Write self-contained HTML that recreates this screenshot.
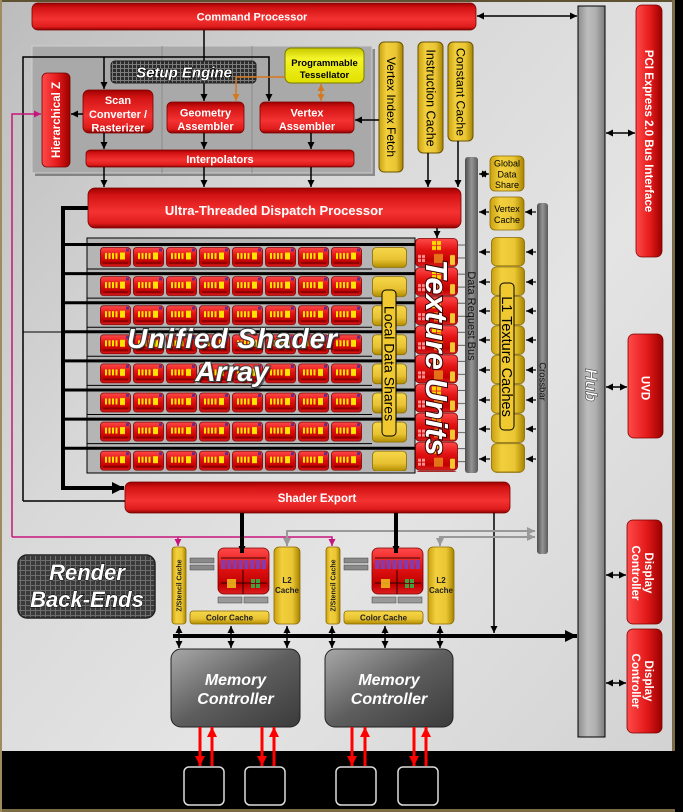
<!DOCTYPE html>
<html><head><meta charset="utf-8"><style>
html,body{margin:0;padding:0;background:#000;}
svg{display:block;}
text{font-family:"Liberation Sans",Arial,sans-serif;}
</style></head><body>
<svg width="683" height="812" viewBox="0 0 683 812" xmlns="http://www.w3.org/2000/svg">
<defs>
 <linearGradient id="bg" x1="0" y1="0" x2="1" y2="1">
  <stop offset="0" stop-color="#bcbcbc"/><stop offset="0.35" stop-color="#d9d9d9"/>
  <stop offset="0.6" stop-color="#e4e4e4"/><stop offset="1" stop-color="#d0d0d0"/>
 </linearGradient>
 <linearGradient id="rh" x1="0" y1="0" x2="0" y2="1">
  <stop offset="0" stop-color="#9e0000"/><stop offset="0.18" stop-color="#d41414"/>
  <stop offset="0.6" stop-color="#f43232"/><stop offset="0.88" stop-color="#de1c1c"/>
  <stop offset="1" stop-color="#8a0000"/>
 </linearGradient>
 <linearGradient id="rv" x1="0" y1="0" x2="1" y2="0">
  <stop offset="0" stop-color="#ff4a4a"/><stop offset="0.55" stop-color="#e41a1a"/>
  <stop offset="1" stop-color="#9a0000"/>
 </linearGradient>
 <linearGradient id="cg" x1="0" y1="0" x2="0" y2="1">
  <stop offset="0" stop-color="#ff4a4a"/><stop offset="0.4" stop-color="#e41414"/>
  <stop offset="0.8" stop-color="#c00000"/><stop offset="1" stop-color="#e02020"/>
 </linearGradient>
 <linearGradient id="yv" x1="0" y1="0" x2="1" y2="0">
  <stop offset="0" stop-color="#c9a010"/><stop offset="0.3" stop-color="#f2cf3c"/>
  <stop offset="0.7" stop-color="#eac634"/><stop offset="1" stop-color="#a88400"/>
 </linearGradient>
 <linearGradient id="yh" x1="0" y1="0" x2="0" y2="1">
  <stop offset="0" stop-color="#f6d84a"/><stop offset="0.6" stop-color="#e8c232"/>
  <stop offset="1" stop-color="#b08c00"/>
 </linearGradient>
 <linearGradient id="yt" x1="0" y1="0" x2="0" y2="1">
  <stop offset="0" stop-color="#c8c800"/><stop offset="0.3" stop-color="#f4f42a"/>
  <stop offset="1" stop-color="#e0e000"/>
 </linearGradient>
 <linearGradient id="hub" x1="0" y1="0" x2="1" y2="0">
  <stop offset="0" stop-color="#8c8c8c"/><stop offset="0.35" stop-color="#bdbdbd"/>
  <stop offset="0.65" stop-color="#b0b0b0"/><stop offset="1" stop-color="#7c7c7c"/>
 </linearGradient>
 <linearGradient id="bar" x1="0" y1="0" x2="1" y2="0">
  <stop offset="0" stop-color="#4c4c4c"/><stop offset="0.5" stop-color="#959595"/>
  <stop offset="1" stop-color="#5a5a5a"/>
 </linearGradient>
 <linearGradient id="mc" x1="0" y1="0" x2="1" y2="1">
  <stop offset="0" stop-color="#a8a8a8"/><stop offset="0.5" stop-color="#5e5e5e"/>
  <stop offset="1" stop-color="#3a3a3a"/>
 </linearGradient>
 <pattern id="grid" width="4" height="4" patternUnits="userSpaceOnUse">
  <rect width="4" height="4" fill="#2c2c2c"/><path d="M0,0.5H4M0.5,0V4" stroke="#7c7c7c" stroke-width="1"/>
 </pattern>
 <pattern id="grid2" width="5" height="5" patternUnits="userSpaceOnUse">
  <rect width="5" height="5" fill="#3a3a3a"/><path d="M0,0.5H5M0.5,0V5" stroke="#6e6e6e" stroke-width="1"/>
 </pattern>
 <pattern id="cellp" x="100" y="247" width="33" height="29.1" patternUnits="userSpaceOnUse">
  <rect x="0.5" y="0.5" width="30" height="19" rx="3" fill="url(#cg)" stroke="#7a0000" stroke-width="0.8"/>
  <rect x="3" y="15" width="25" height="2" fill="#8a0000"/>
  <rect x="5" y="6" width="2" height="6" fill="#ffe400"/>
  <rect x="8.5" y="6" width="2" height="6" fill="#ffe400"/>
  <rect x="12" y="6" width="2" height="6" fill="#ffe400"/>
  <rect x="15.5" y="6" width="2" height="6" fill="#ffe400"/>
  <rect x="20" y="5.5" width="5" height="7" fill="#ffe400"/>
  <rect x="26" y="1.5" width="3" height="3" fill="#6a2a8a"/>
 </pattern>
 <pattern id="tup" x="415" y="238" width="43" height="29.1" patternUnits="userSpaceOnUse">
  <rect x="0.5" y="0.5" width="42" height="28" rx="4" fill="url(#cg)" stroke="#7a0000" stroke-width="0.8"/>
  <rect x="17" y="3" width="4" height="4" fill="#ffd800"/><rect x="22" y="3" width="4" height="4" fill="#ffd800"/>
  <rect x="17" y="8" width="4" height="4" fill="#ffd800"/><rect x="22" y="8" width="4" height="4" fill="#ffd800"/>
  <rect x="3" y="17" width="3" height="3" fill="#ff9090"/><rect x="7" y="17" width="3" height="3" fill="#ff9090"/>
  <rect x="3" y="21" width="3" height="3" fill="#ff9090"/><rect x="7" y="21" width="3" height="3" fill="#ff9090"/>
  <rect x="19" y="16" width="9" height="9" fill="#f0a020" opacity="0.7"/>
  <rect x="35" y="17" width="5" height="10" rx="1" fill="#f2c830"/>
 </pattern>
 <pattern id="tul" x="458" y="238" width="7" height="29.1" patternUnits="userSpaceOnUse">
  <path d="M0,7H7M0,20H7" stroke="#333" stroke-width="0.8"/>
 </pattern>
 <pattern id="ldsp" x="372" y="247" width="35" height="29.1" patternUnits="userSpaceOnUse">
  <rect x="0.5" y="0.5" width="34" height="20" rx="4" fill="url(#yh)" stroke="#8a6a00" stroke-width="0.8"/>
 </pattern>
 <pattern id="l1p" x="491" y="237" width="34" height="29.45" patternUnits="userSpaceOnUse">
  <rect x="0.5" y="0.5" width="33" height="28.4" rx="5" fill="url(#yv)" stroke="#8a6a00" stroke-width="0.8"/>
 </pattern>
 <marker id="ak" viewBox="0 0 10 10" refX="10" refY="5" markerWidth="7" markerHeight="7" markerUnits="userSpaceOnUse" orient="auto-start-reverse"><path d="M0,0L10,5L0,10z" fill="#000"/></marker>
 <marker id="akb" viewBox="0 0 10 10" refX="10" refY="5" markerWidth="12" markerHeight="12" markerUnits="userSpaceOnUse" orient="auto-start-reverse"><path d="M0,0L10,5L0,10z" fill="#000"/></marker>
 <marker id="ao" viewBox="0 0 10 10" refX="10" refY="5" markerWidth="7" markerHeight="7" markerUnits="userSpaceOnUse" orient="auto-start-reverse"><path d="M0,0L10,5L0,10z" fill="#d5781e"/></marker>
 <marker id="am" viewBox="0 0 10 10" refX="10" refY="5" markerWidth="7" markerHeight="7" markerUnits="userSpaceOnUse" orient="auto-start-reverse"><path d="M0,0L10,5L0,10z" fill="#c8157d"/></marker>
 <marker id="ag" viewBox="0 0 10 10" refX="10" refY="5" markerWidth="8" markerHeight="8" markerUnits="userSpaceOnUse" orient="auto-start-reverse"><path d="M0,0L10,5L0,10z" fill="#999"/></marker>
 <marker id="ar" viewBox="0 0 10 10" refX="10" refY="5" markerWidth="10" markerHeight="10" markerUnits="userSpaceOnUse" orient="auto-start-reverse"><path d="M0,0L10,5L0,10z" fill="#ff0000"/></marker>
</defs>

<!-- background & frame -->
<rect width="683" height="812" fill="url(#bg)"/>
<rect x="0" y="751" width="683" height="61" fill="#000"/>
<rect x="0" y="809" width="683" height="3" fill="#7a6c44"/>
<rect x="0" y="0" width="683" height="2" fill="#5e5230"/>
<rect x="0" y="0" width="2" height="812" fill="#9c8c60"/>
<rect x="675" y="0" width="8" height="812" fill="#000"/>
<rect x="672" y="0" width="3" height="751" fill="#7a6c44"/>

<!-- Hub -->
<rect x="578" y="6" width="27" height="731" fill="url(#hub)" stroke="#000" stroke-width="1"/>
<text transform="translate(585.5,385) rotate(90)" text-anchor="middle" font-size="17" font-weight="bold" font-style="italic" fill="#fff" stroke="#444" stroke-width="0.6">Hub</text>

<!-- PCI -->
<rect x="636" y="5" width="26" height="252" rx="6" fill="url(#rv)" stroke="#7a0000" stroke-width="0.8"/>
<text transform="translate(645,131) rotate(90)" text-anchor="middle" font-size="11.5" font-weight="bold" fill="#fff">PCI Express 2.0 Bus Interface</text>
<!-- UVD / Display -->
<rect x="628" y="334" width="35" height="104" rx="6" fill="url(#rv)" stroke="#7a0000" stroke-width="0.8"/>
<text transform="translate(641.5,388) rotate(90)" text-anchor="middle" font-size="11.5" font-weight="bold" fill="#fff">UVD</text>
<rect x="627" y="520" width="35" height="104" rx="6" fill="url(#rv)" stroke="#7a0000" stroke-width="0.8"/>
<text transform="translate(645,573) rotate(90)" text-anchor="middle" font-size="11.5" font-weight="bold" fill="#fff">Display</text>
<text transform="translate(632,573) rotate(90)" text-anchor="middle" font-size="11.5" font-weight="bold" fill="#fff">Controller</text>
<rect x="627" y="629" width="35" height="104" rx="6" fill="url(#rv)" stroke="#7a0000" stroke-width="0.8"/>
<text transform="translate(645,681) rotate(90)" text-anchor="middle" font-size="11.5" font-weight="bold" fill="#fff">Display</text>
<text transform="translate(632,681) rotate(90)" text-anchor="middle" font-size="11.5" font-weight="bold" fill="#fff">Controller</text>

<g stroke="#000" stroke-width="1.5" fill="none">
 <line x1="477" y1="16" x2="577" y2="16" marker-start="url(#ak)" marker-end="url(#ak)"/>
 <line x1="606" y1="133" x2="635" y2="133" marker-start="url(#ak)" marker-end="url(#ak)"/>
 <line x1="606" y1="387" x2="627" y2="387" marker-start="url(#ak)" marker-end="url(#ak)"/>
 <line x1="606" y1="575" x2="626" y2="575" marker-start="url(#ak)" marker-end="url(#ak)"/>
 <line x1="606" y1="683" x2="626" y2="683" marker-start="url(#ak)" marker-end="url(#ak)"/>
</g>

<!-- Command Processor -->
<rect x="32" y="3" width="444" height="27" rx="6" fill="url(#rh)" stroke="#7a0000" stroke-width="0.8"/>
<text x="252" y="20.5" text-anchor="middle" font-size="11" font-weight="bold" fill="#fff">Command Processor</text>

<!-- Setup panel -->
<rect x="35" y="49" width="340" height="127" fill="#555" opacity="0.6"/>
<rect x="32" y="46" width="340" height="127" fill="#a9a9a9" stroke="#cfcfcf" stroke-width="1"/>
<line x1="162" y1="46" x2="162" y2="173" stroke="#8a8a8a"/>
<line x1="252" y1="46" x2="252" y2="173" stroke="#8a8a8a"/>
<rect x="285" y="48" width="79" height="35" rx="6" fill="url(#yt)" stroke="#7a7a00" stroke-width="1"/>
<text x="324.5" y="66" text-anchor="middle" font-size="9.5" font-weight="bold" fill="#000">Programmable</text>
<text x="324.5" y="78" text-anchor="middle" font-size="9.5" font-weight="bold" fill="#000">Tessellator</text>

<rect x="42" y="73" width="28" height="94" rx="5" fill="url(#rv)" stroke="#7a0000" stroke-width="0.8"/>
<text transform="translate(60,120) rotate(-90)" text-anchor="middle" font-size="11.5" font-weight="bold" fill="#fff">Hierarchical Z</text>
<rect x="83" y="90" width="70" height="43" rx="6" fill="url(#rh)" stroke="#7a0000" stroke-width="0.8"/>
<text x="118" y="104" text-anchor="middle" font-size="11" font-weight="bold" fill="#fff">Scan</text>
<text x="118" y="118" text-anchor="middle" font-size="11" font-weight="bold" fill="#fff">Converter /</text>
<text x="118" y="131.5" text-anchor="middle" font-size="11" font-weight="bold" fill="#fff">Rasterizer</text>
<rect x="167" y="102" width="77" height="31" rx="5" fill="url(#rh)" stroke="#7a0000" stroke-width="0.8"/>
<text x="205.5" y="116.5" text-anchor="middle" font-size="11" font-weight="bold" fill="#fff">Geometry</text>
<text x="205.5" y="130" text-anchor="middle" font-size="11" font-weight="bold" fill="#fff">Assembler</text>
<rect x="260" y="102" width="94" height="31" rx="5" fill="url(#rh)" stroke="#7a0000" stroke-width="0.8"/>
<text x="307" y="116.5" text-anchor="middle" font-size="11" font-weight="bold" fill="#fff">Vertex</text>
<text x="307" y="130" text-anchor="middle" font-size="11" font-weight="bold" fill="#fff">Assembler</text>
<rect x="86" y="150" width="268" height="17" rx="4" fill="url(#rh)" stroke="#7a0000" stroke-width="0.8"/>
<text x="220" y="163" text-anchor="middle" font-size="11" font-weight="bold" fill="#fff">Interpolators</text>

<!-- yellow caches top -->
<rect x="379" y="42" width="24" height="130" rx="5" fill="url(#yv)" stroke="#6a5200" stroke-width="1"/>
<text transform="translate(387,107) rotate(90)" text-anchor="middle" font-size="12" fill="#000">Vertex Index Fetch</text>
<rect x="418" y="42" width="25" height="111" rx="5" fill="url(#yv)" stroke="#6a5200" stroke-width="1"/>
<text transform="translate(426.5,98) rotate(90)" text-anchor="middle" font-size="12.5" fill="#000">Instruction Cache</text>
<rect x="448" y="42" width="25" height="99" rx="5" fill="url(#yv)" stroke="#6a5200" stroke-width="1"/>
<text transform="translate(456.5,92) rotate(90)" text-anchor="middle" font-size="12.3" fill="#000">Constant Cache</text>

<!-- UTDP -->
<rect x="88" y="188" width="373" height="40" rx="7" fill="url(#rh)" stroke="#7a0000" stroke-width="0.8"/>
<text x="274" y="215" text-anchor="middle" font-size="13" font-weight="bold" fill="#fff">Ultra-Threaded Dispatch Processor</text>

<!-- DRB, GDS, VC, crossbar -->
<rect x="465" y="157" width="13" height="316" rx="3" fill="url(#bar)"/>
<text transform="translate(468,316) rotate(90)" text-anchor="middle" font-size="11" fill="#111">Data Request Bus</text>
<rect x="490" y="156" width="34" height="35" rx="5" fill="url(#yv)" stroke="#8a6a00" stroke-width="0.8"/>
<text x="507" y="166.5" text-anchor="middle" font-size="9" fill="#000">Global</text>
<text x="507" y="177.5" text-anchor="middle" font-size="9" fill="#000">Data</text>
<text x="507" y="188" text-anchor="middle" font-size="9" fill="#000">Share</text>
<rect x="490" y="197" width="34" height="33" rx="5" fill="url(#yv)" stroke="#8a6a00" stroke-width="0.8"/>
<text x="507" y="212" text-anchor="middle" font-size="9" fill="#000">Vertex</text>
<text x="507" y="223" text-anchor="middle" font-size="9" fill="#000">Cache</text>
<rect x="537" y="203" width="11" height="351" rx="3" fill="url(#bar)"/>
<text transform="translate(539.5,381.5) rotate(90)" text-anchor="middle" font-size="9.5" fill="#111">Crossbar</text>

<!-- L1 caches -->
<rect x="491" y="237" width="34" height="236" fill="url(#l1p)"/>
<rect x="500" y="283" width="14" height="147" rx="4" fill="#f0c830" stroke="#000" stroke-width="1"/>
<text transform="translate(502,356.5) rotate(90)" text-anchor="middle" font-size="14.5" fill="#000">L1 Texture Caches</text>

<g stroke="#000" stroke-width="1.2" fill="none">
 <line x1="479" y1="174" x2="489" y2="174" marker-start="url(#ak)" marker-end="url(#ak)"/>
 <line x1="536" y1="212" x2="525" y2="212" marker-end="url(#ak)"/>
 <line x1="489" y1="212" x2="479" y2="212" marker-end="url(#ak)"/>
 <line x1="536" y1="252" x2="526" y2="252" marker-end="url(#ak)"/><line x1="490" y1="252" x2="479" y2="252" marker-end="url(#ak)"/>
 <line x1="536" y1="282" x2="526" y2="282" marker-end="url(#ak)"/><line x1="490" y1="282" x2="479" y2="282" marker-end="url(#ak)"/>
 <line x1="536" y1="311" x2="526" y2="311" marker-end="url(#ak)"/><line x1="490" y1="311" x2="479" y2="311" marker-end="url(#ak)"/>
 <line x1="536" y1="340" x2="526" y2="340" marker-end="url(#ak)"/><line x1="490" y1="340" x2="479" y2="340" marker-end="url(#ak)"/>
 <line x1="536" y1="370" x2="526" y2="370" marker-end="url(#ak)"/><line x1="490" y1="370" x2="479" y2="370" marker-end="url(#ak)"/>
 <line x1="536" y1="400" x2="526" y2="400" marker-end="url(#ak)"/><line x1="490" y1="400" x2="479" y2="400" marker-end="url(#ak)"/>
 <line x1="536" y1="429" x2="526" y2="429" marker-end="url(#ak)"/><line x1="490" y1="429" x2="479" y2="429" marker-end="url(#ak)"/>
 <line x1="536" y1="459" x2="526" y2="459" marker-end="url(#ak)"/><line x1="490" y1="459" x2="479" y2="459" marker-end="url(#ak)"/>
</g>

<!-- shader array -->
<rect x="87" y="238" width="328" height="235" fill="#b5b5b5" stroke="#000" stroke-width="1"/>
<g stroke="#000" stroke-width="1" fill="none">
 <path d="M87,269H372M87,298.1H372M87,327.2H372M87,356.3H372M87,385.4H372M87,414.5H372M87,443.6H372"/>
 <path d="M23,332H87"/>
</g>
<rect x="100" y="247" width="262" height="224" fill="url(#cellp)"/>
<rect x="372" y="247" width="35" height="224" fill="url(#ldsp)"/>
<rect x="415" y="238" width="43" height="234" fill="url(#tup)"/>
<rect x="458" y="238" width="7" height="234" fill="url(#tul)"/>
<g stroke="#000" stroke-width="3" fill="none">
 <path d="M63,244.5H415M63,273.6H415M63,302.7H415M63,331.8H415M63,360.9H415M63,390H415M63,419.1H415M63,448.2H415"/>
</g>
<rect x="382" y="290" width="14" height="146" rx="4" fill="#f0c830" stroke="#000" stroke-width="1"/>
<text transform="translate(384.5,363.5) rotate(90)" text-anchor="middle" font-size="14" fill="#000">Local Data Shares</text>

<text x="234" y="350" text-anchor="middle" font-size="28" font-weight="bold" font-style="italic" fill="#000" opacity="0.45" textLength="210">Unified Shader</text>
<text x="232" y="348" text-anchor="middle" font-size="28" font-weight="bold" font-style="italic" fill="#fff" stroke="#3a3a3a" stroke-width="2" paint-order="stroke" textLength="210">Unified Shader</text>
<text x="234" y="383" text-anchor="middle" font-size="28" font-weight="bold" font-style="italic" fill="#000" opacity="0.45">Array</text>
<text x="232" y="381" text-anchor="middle" font-size="28" font-weight="bold" font-style="italic" fill="#fff" stroke="#3a3a3a" stroke-width="2" paint-order="stroke">Array</text>
<text transform="translate(426,357.5) rotate(90)" text-anchor="middle" font-size="31" font-weight="bold" font-style="italic" fill="#fff" stroke="#3a0000" stroke-width="2" paint-order="stroke" textLength="196">Texture Units</text>

<!-- Shader Export -->
<rect x="125" y="482" width="385" height="31" rx="6" fill="url(#rh)" stroke="#7a0000" stroke-width="0.8"/>
<text x="317" y="502" text-anchor="middle" font-size="11.5" font-weight="bold" fill="#fff">Shader Export</text>

<!-- control lines top -->
<g stroke="#000" stroke-width="1.5" fill="none">
 <line x1="204" y1="30" x2="204" y2="101" marker-end="url(#ak)"/>
 <path d="M23,501V57H269V101" marker-end="url(#ak)"/>
 <line x1="104" y1="57" x2="104" y2="89" marker-end="url(#ak)"/>
 <path d="M23,501H125"/>
 <line x1="83" y1="114" x2="71" y2="114" marker-end="url(#ak)"/>
 <line x1="104" y1="133" x2="104" y2="149" marker-end="url(#ak)"/>
 <line x1="204" y1="133" x2="204" y2="149" marker-end="url(#ak)"/>
 <line x1="311" y1="133" x2="311" y2="149" marker-end="url(#ak)"/>
 <line x1="104" y1="167" x2="104" y2="187" marker-end="url(#ak)"/>
 <line x1="204" y1="167" x2="204" y2="187" marker-end="url(#ak)"/>
 <line x1="311" y1="167" x2="311" y2="187" marker-end="url(#ak)"/>
 <line x1="379" y1="120" x2="355" y2="120" marker-end="url(#ak)"/>
 <line x1="428" y1="153" x2="428" y2="187" marker-end="url(#ak)"/>
 <line x1="458" y1="141" x2="458" y2="187" marker-end="url(#ak)"/>
 <line x1="437" y1="228" x2="437" y2="238" marker-end="url(#ak)"/>
 <line x1="494" y1="513" x2="494" y2="633" marker-end="url(#ak)"/>
</g>
<!-- Setup Engine label box (drawn over CP line) -->
<rect x="111" y="61" width="145" height="22" rx="4" fill="url(#grid)" stroke="#222"/>
<text x="184" y="77.5" text-anchor="middle" font-size="15" font-weight="bold" font-style="italic" fill="#fff" stroke="#000" stroke-width="1.2" paint-order="stroke">Setup Engine</text>

<path d="M88,208H63V488H124" stroke="#000" stroke-width="4" fill="none" marker-end="url(#akb)"/>
<!-- orange -->
<g stroke="#d5781e" stroke-width="1.5" fill="none">
 <path d="M285,77H236V101" marker-end="url(#ao)"/>
 <line x1="321" y1="84" x2="321" y2="101" marker-start="url(#ao)" marker-end="url(#ao)"/>
</g>
<!-- magenta -->
<g stroke="#c8157d" stroke-width="1.5" fill="none">
 <path d="M12,537V114H41" marker-end="url(#am)"/>
 <path d="M12,537H332V546" marker-end="url(#am)"/>
 <path d="M178,537V546" marker-end="url(#am)"/>
</g>
<!-- gray crossbar lines -->
<g stroke="#999" stroke-width="2" fill="none">
 <path d="M287,546V531H535" marker-start="url(#ag)" marker-end="url(#ag)"/>
 <path d="M440,546V537H535" marker-start="url(#ag)" marker-end="url(#ag)"/>
</g>

<!-- Render Back-Ends label -->
<rect x="18" y="555" width="137" height="63" rx="9" fill="url(#grid2)" stroke="#222" stroke-width="1.5"/>
<text x="87" y="580" text-anchor="middle" font-size="22" font-weight="bold" font-style="italic" fill="#fff" stroke="#000" stroke-width="1" paint-order="stroke">Render</text>
<text x="87" y="607" text-anchor="middle" font-size="22" font-weight="bold" font-style="italic" fill="#fff" stroke="#000" stroke-width="1" paint-order="stroke">Back-Ends</text>

<!-- RBE 1 -->
<g>
 <rect x="172" y="547" width="14" height="77" rx="3" fill="url(#yv)" stroke="#8a6a00" stroke-width="0.8"/>
 <text transform="translate(181.5,585.5) rotate(-90)" text-anchor="middle" font-size="7" font-weight="bold" fill="#222">Z/Stencil Cache</text>
 <rect x="190" y="558" width="24" height="5" fill="#8a8a8a" stroke="#444" stroke-width="0.5"/>
 <rect x="190" y="565" width="24" height="5" fill="#8a8a8a" stroke="#444" stroke-width="0.5"/>
 <rect x="218" y="548" width="51" height="46" rx="6" fill="url(#cg)" stroke="#7a0000" stroke-width="0.8"/>
 <path d="M221,558H266M221,583H267M243,570V594" stroke="#000" stroke-width="0.8"/>
 <g fill="#8a3aa8"><rect x="221" y="560" width="4.5" height="9"/><rect x="226.8" y="560" width="4.5" height="9"/><rect x="232.6" y="560" width="4.5" height="9"/><rect x="238.4" y="560" width="4.5" height="9"/><rect x="244.2" y="560" width="4.5" height="9"/><rect x="250" y="560" width="4.5" height="9"/><rect x="255.8" y="560" width="4.5" height="9"/><rect x="261.6" y="560" width="4.5" height="9"/></g>
 <rect x="227" y="579" width="9" height="9" fill="#f0c020" opacity="0.85"/>
 <g fill="#40a040"><rect x="251" y="579" width="4" height="4"/><rect x="256" y="579" width="4" height="4"/><rect x="251" y="584" width="4" height="4"/><rect x="256" y="584" width="4" height="4"/></g>
 <rect x="218" y="597" width="24" height="6" fill="#999" stroke="#444" stroke-width="0.5"/>
 <rect x="244" y="597" width="24" height="6" fill="#999" stroke="#444" stroke-width="0.5"/>
 <rect x="190" y="611" width="79" height="13" rx="3" fill="url(#yh)" stroke="#8a6a00" stroke-width="0.8"/>
 <text x="229.5" y="620.5" text-anchor="middle" font-size="8" font-weight="bold" fill="#222">Color Cache</text>
 <rect x="274" y="547" width="26" height="77" rx="5" fill="url(#yv)" stroke="#8a6a00" stroke-width="0.8"/>
 <text x="287" y="583" text-anchor="middle" font-size="8" font-weight="bold" fill="#222">L2</text>
 <text x="287" y="593" text-anchor="middle" font-size="8" font-weight="bold" fill="#222">Cache</text>
</g>
<!-- RBE 2 -->
<g transform="translate(154,0)">
 <rect x="172" y="547" width="14" height="77" rx="3" fill="url(#yv)" stroke="#8a6a00" stroke-width="0.8"/>
 <text transform="translate(181.5,585.5) rotate(-90)" text-anchor="middle" font-size="7" font-weight="bold" fill="#222">Z/Stencil Cache</text>
 <rect x="190" y="558" width="24" height="5" fill="#8a8a8a" stroke="#444" stroke-width="0.5"/>
 <rect x="190" y="565" width="24" height="5" fill="#8a8a8a" stroke="#444" stroke-width="0.5"/>
 <rect x="218" y="548" width="51" height="46" rx="6" fill="url(#cg)" stroke="#7a0000" stroke-width="0.8"/>
 <path d="M221,558H266M221,583H267M243,570V594" stroke="#000" stroke-width="0.8"/>
 <g fill="#8a3aa8"><rect x="221" y="560" width="4.5" height="9"/><rect x="226.8" y="560" width="4.5" height="9"/><rect x="232.6" y="560" width="4.5" height="9"/><rect x="238.4" y="560" width="4.5" height="9"/><rect x="244.2" y="560" width="4.5" height="9"/><rect x="250" y="560" width="4.5" height="9"/><rect x="255.8" y="560" width="4.5" height="9"/><rect x="261.6" y="560" width="4.5" height="9"/></g>
 <rect x="227" y="579" width="9" height="9" fill="#f0c020" opacity="0.85"/>
 <g fill="#40a040"><rect x="251" y="579" width="4" height="4"/><rect x="256" y="579" width="4" height="4"/><rect x="251" y="584" width="4" height="4"/><rect x="256" y="584" width="4" height="4"/></g>
 <rect x="218" y="597" width="24" height="6" fill="#999" stroke="#444" stroke-width="0.5"/>
 <rect x="244" y="597" width="24" height="6" fill="#999" stroke="#444" stroke-width="0.5"/>
 <rect x="190" y="611" width="79" height="13" rx="3" fill="url(#yh)" stroke="#8a6a00" stroke-width="0.8"/>
 <text x="229.5" y="620.5" text-anchor="middle" font-size="8" font-weight="bold" fill="#222">Color Cache</text>
 <rect x="274" y="547" width="26" height="77" rx="5" fill="url(#yv)" stroke="#8a6a00" stroke-width="0.8"/>
 <text x="287" y="583" text-anchor="middle" font-size="8" font-weight="bold" fill="#222">L2</text>
 <text x="287" y="593" text-anchor="middle" font-size="8" font-weight="bold" fill="#222">Cache</text>
</g>

<!-- SE to RBE thick -->
<g stroke="#000" stroke-width="4" fill="none">
 <line x1="242" y1="513" x2="242" y2="553" marker-end="url(#ak)"/>
 <line x1="396" y1="513" x2="396" y2="553" marker-end="url(#ak)"/>
</g>

<!-- Bus -->
<path d="M173,636H577" stroke="#000" stroke-width="4" fill="none" marker-end="url(#akb)"/>
<g stroke="#000" stroke-width="1.5" fill="none">
 <line x1="179" y1="626" x2="179" y2="648" marker-start="url(#ak)" marker-end="url(#ak)"/>
 <line x1="231" y1="626" x2="231" y2="648" marker-start="url(#ak)" marker-end="url(#ak)"/>
 <line x1="287" y1="626" x2="287" y2="648" marker-start="url(#ak)" marker-end="url(#ak)"/>
 <line x1="332" y1="626" x2="332" y2="648" marker-start="url(#ak)" marker-end="url(#ak)"/>
 <line x1="385" y1="626" x2="385" y2="648" marker-start="url(#ak)" marker-end="url(#ak)"/>
 <line x1="440" y1="626" x2="440" y2="648" marker-start="url(#ak)" marker-end="url(#ak)"/>
</g>

<!-- Memory controllers -->
<rect x="171" y="649" width="129" height="78" rx="10" fill="url(#mc)" stroke="#222" stroke-width="1"/>
<text x="235.5" y="685" text-anchor="middle" font-size="16" font-weight="bold" font-style="italic" fill="#fff">Memory</text>
<text x="235.5" y="704" text-anchor="middle" font-size="16" font-weight="bold" font-style="italic" fill="#fff">Controller</text>
<rect x="325" y="649" width="128" height="78" rx="10" fill="url(#mc)" stroke="#222" stroke-width="1"/>
<text x="389" y="685" text-anchor="middle" font-size="16" font-weight="bold" font-style="italic" fill="#fff">Memory</text>
<text x="389" y="704" text-anchor="middle" font-size="16" font-weight="bold" font-style="italic" fill="#fff">Controller</text>

<!-- memory chips -->
<g fill="#000" stroke="#dddddd" stroke-width="1.5">
 <rect x="184" y="767" width="40" height="38" rx="5"/>
 <rect x="245" y="767" width="40" height="38" rx="5"/>
 <rect x="336" y="767" width="40" height="38" rx="5"/>
 <rect x="398" y="767" width="40" height="38" rx="5"/>
</g>
<g stroke="#ff0000" stroke-width="3" fill="none">
 <line x1="200" y1="727" x2="200" y2="766" marker-end="url(#ar)"/>
 <line x1="212" y1="766" x2="212" y2="727" marker-end="url(#ar)"/>
 <line x1="262" y1="727" x2="262" y2="766" marker-end="url(#ar)"/>
 <line x1="274" y1="766" x2="274" y2="727" marker-end="url(#ar)"/>
 <line x1="352" y1="727" x2="352" y2="766" marker-end="url(#ar)"/>
 <line x1="365" y1="766" x2="365" y2="727" marker-end="url(#ar)"/>
 <line x1="414" y1="727" x2="414" y2="766" marker-end="url(#ar)"/>
 <line x1="426" y1="766" x2="426" y2="727" marker-end="url(#ar)"/>
</g>
</svg>
</body></html>
